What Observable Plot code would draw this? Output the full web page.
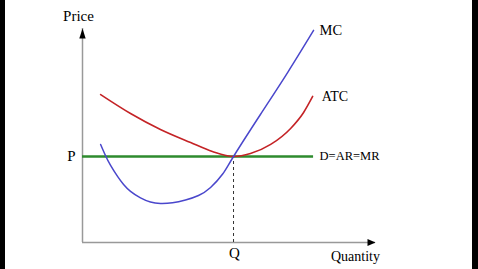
<!DOCTYPE html>
<html>
<head>
<meta charset="utf-8">
<script src="https://cdn.jsdelivr.net/npm/d3@7"></script>
<script src="https://cdn.jsdelivr.net/npm/@observablehq/plot@0.6"></script>
<style>
  html, body { margin: 0; padding: 0; background: #000; }
  #chart svg { display: block; background: linear-gradient(to right, #000 0 5px, #fff 5px 472px, #000 472px); }
</style>
</head>
<body>
<div id="chart"></div>
<script>
// Values (abstract units: Q = 5, P = 5)
const P = 5;
const Q = 5;
const xMax = 9.7;    // end of quantity axis
const yMax = 12.44;  // end of price axis

const mcQ = [0.60, 0.76, 0.93, 1.16, 1.36, 1.59, 1.92, 2.25, 2.58, 2.98, 3.41, 3.84, 4.24, 4.64, 5.00, 5.89, 6.79, 7.65];
const mcP = [5.70, 5.06, 4.48, 3.84, 3.37, 2.97, 2.59, 2.35, 2.27, 2.31, 2.47, 2.73, 3.20, 3.98, 5.00, 7.44, 9.88, 12.33];

const atcQ = [0.60, 1.59, 2.58, 3.58, 4.30, 5.00, 5.56, 6.23, 6.89, 7.32, 7.62];
const atcP = [8.60, 7.50, 6.57, 5.81, 5.29, 5.00, 5.17, 5.70, 6.63, 7.56, 8.49];

const demandQ = [0, 7.65];

const labels = ["Price", "Quantity", "P", "Q", "MC", "ATC", "D=AR=MR"];

const mc = mcQ.map((q, i) => ({q, p: mcP[i]}));
const atc = atcQ.map((q, i) => ({q, p: atcP[i]}));

const head = (len, half) => ({
  draw(ctx, l) {
    ctx.moveTo(0, -len);
    ctx.lineTo(-half, 0);
    ctx.lineTo(half, 0);
    ctx.closePath();
  }
});

const font = "Liberation Serif, Times New Roman, serif";

const chart = Plot.plot({
  width: 478,
  height: 269,
  marginLeft: 82,
  marginRight: 103,
  marginTop: 28,
  marginBottom: 27,
  x: {domain: [0, xMax], axis: null},
  y: {domain: [0, yMax], axis: null},
  style: {fontFamily: font, overflow: "visible"},
  marks: [
    // axes
    Plot.ruleX([0], {y1: 0, y2: yMax, stroke: "#999", strokeWidth: 1.5}),
    Plot.ruleY([0], {x1: 0, x2: xMax, stroke: "#999", strokeWidth: 1.5}),
    Plot.vector([{x: 0, y: yMax}], {x: "x", y: "y", length: 10, anchor: "end", rotate: 0, shape: head(10, 3.2), fill: "#000", stroke: "none"}),
    Plot.vector([{x: xMax, y: 0}], {x: "x", y: "y", length: 8, anchor: "end", rotate: 90, shape: head(8, 3.5), fill: "#000", stroke: "none"}),
    // dashed Q line
    Plot.ruleX([Q], {y1: 0, y2: P, stroke: "#333", strokeWidth: 1, strokeDasharray: "3,3"}),
    // demand line
    Plot.ruleY([P], {x1: demandQ[0], x2: demandQ[1], stroke: "#2e8b2e", strokeWidth: 2.5}),
    // curves
    Plot.line(atc, {x: "q", y: "p", stroke: "#c42326", strokeWidth: 1.6, curve: "monotone-x"}),
    Plot.line(mc, {x: "q", y: "p", stroke: "#4a47cc", strokeWidth: 1.5, curve: "natural"}),
    // labels
    Plot.text([labels[0]], {x: 0, y: yMax, dx: -4, dy: -12, text: d => d, fontSize: 15, fill: "#000"}),
    Plot.text([labels[1]], {x: xMax, y: 0, dx: -20, dy: 14, text: d => d, fontSize: 14, fill: "#000"}),
    Plot.text([labels[2]], {x: 0, y: P, dx: -11, text: d => d, fontSize: 15, fill: "#000"}),
    Plot.text([labels[3]], {x: Q, y: 0, dx: 1, dy: 11, text: d => d, fontSize: 15, fill: "#000"}),
    Plot.text([labels[4]], {x: mcQ[mcQ.length - 1], y: mcP[mcP.length - 1], dx: 6, text: d => d, fontSize: 14.5, textAnchor: "start", fill: "#000"}),
    Plot.text([labels[5]], {x: atcQ[atcQ.length - 1], y: atcP[atcP.length - 1], dx: 9, dy: 0, text: d => d, fontSize: 14, textAnchor: "start", fill: "#000"}),
    Plot.text([labels[6]], {x: demandQ[1], y: P, dx: 6, text: d => d, fontSize: 12.5, textAnchor: "start", fill: "#000"})
  ]
});

document.getElementById("chart").appendChild(chart);
</script>
</body>
</html>
